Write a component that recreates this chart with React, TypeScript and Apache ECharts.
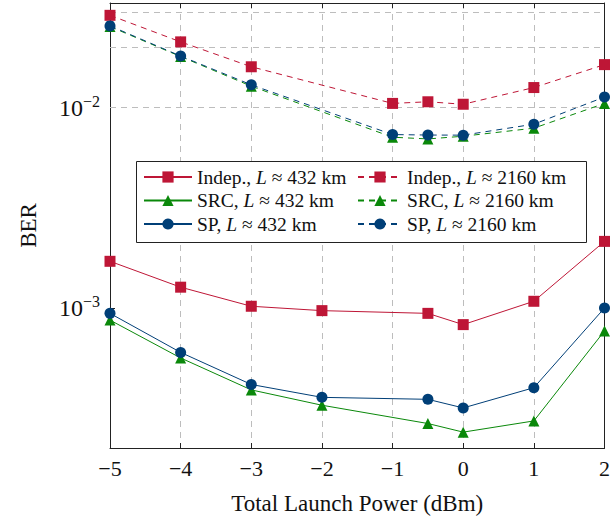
import React, { useEffect, useRef } from "react";
import * as echarts from "echarts";

const X432 = [-5, -4, -3, -2, -0.5, 0, 1, 2];
const X2160 = [-5, -4, -3, -1, -0.5, 0, 1, 2];
const indep432 = [1.71e-3, 1.27e-3, 1.02e-3, 0.97e-3, 0.94e-3, 0.826e-3, 1.08e-3, 2.15e-3];
const src432 = [0.87e-3, 0.563e-3, 0.39e-3, 0.327e-3, 0.265e-3, 0.24e-3, 0.273e-3, 0.768e-3];
const sp432 = [0.94e-3, 0.6e-3, 0.415e-3, 0.358e-3, 0.35e-3, 0.317e-3, 0.4e-3, 1.0e-3];
const indep2160 = [2.89e-2, 2.13e-2, 1.6e-2, 1.05e-2, 1.07e-2, 1.04e-2, 1.26e-2, 1.64e-2];
const src2160 = [2.54e-2, 1.8e-2, 1.28e-2, 7.12e-3, 6.98e-3, 7.2e-3, 7.9e-3, 1.05e-2];
const sp2160 = [2.56e-2, 1.81e-2, 1.3e-2, 7.34e-3, 7.3e-3, 7.29e-3, 8.27e-3, 1.13e-2];
const gridValues = [3e-4, 4e-4, 5e-4, 6e-4, 7e-4, 8e-4, 9e-4, 1e-3, 2e-3, 3e-3, 4e-3, 5e-3, 6e-3, 7e-3, 8e-3, 9e-3, 1e-2, 2e-2, 3e-2];
const names432 = ["Indep., L ≈ 432 km", "SRC, L ≈ 432 km", "SP, L ≈ 432 km"];
const names2160 = ["Indep., L ≈ 2160 km", "SRC, L ≈ 2160 km", "SP, L ≈ 2160 km"];

const RED = "#BE1636";
const GREEN = "#0A880A";
const BLUE = "#003F77";
const FONT = "'Liberation Serif', 'Times New Roman', serif";
const GRIDC = "#bdbdbd";

function zip(xs: number[], ys: number[]) {
  return xs.map((x, i) => [x, ys[i]]);
}

export default function App() {
  const ref = useRef<HTMLDivElement>(null);
  useEffect(() => {
    if (!ref.current) return;
    const chart = echarts.init(ref.current, null, { renderer: "svg" });
    const mk = (name: string, xs: number[], ys: number[], color: string, symbol: string, dashed: boolean) => ({
      name,
      type: "line",
      data: zip(xs, ys),
      symbol,
      symbolSize: 11,
      showSymbol: true,
      itemStyle: { color },
      lineStyle: { color, width: 1, type: dashed ? [6, 5] : "solid" },
      z: 3,
    });
    const legendCommon = {
      orient: "vertical",
      itemHeight: 14,
      itemGap: 3.5,
      padding: 0,
      textStyle: {
        fontFamily: FONT,
        fontSize: 19.5,
        lineHeight: 20,
        color: "#111",
        rich: { i: { fontFamily: FONT, fontSize: 19.5, lineHeight: 20, fontStyle: "italic", color: "#111" } },
      },
      formatter: (n: string) => {
        const parts = n.split("L");
        return parts[0] + "{i|L}" + parts[1];
      },
      selectedMode: false,
    };
    const isPow = (v: number) => Math.abs(Math.log10(v) - Math.round(Math.log10(v))) < 1e-6;
    chart.setOption({
      animation: false,
      grid: { left: 110, right: 8, top: 3, bottom: 71 },
      xAxis: [
        {
          type: "value",
          min: -5,
          max: 2,
          interval: 1,
          axisLine: { show: true, onZero: false, lineStyle: { color: "#222", width: 1 } },
          axisTick: { show: true, inside: true, length: 5, lineStyle: { color: "#222" } },
          axisLabel: {
            fontFamily: FONT,
            fontSize: 22,
            color: "#111",
            margin: 9,
            formatter: (v: number) => (v < 0 ? "\u2212" + Math.abs(v) : String(v)),
          },
          splitLine: { show: true, lineStyle: { color: GRIDC, type: [6, 5], width: 1 } },
          name: "Total Launch Power (dBm)",
          nameLocation: "middle",
          nameGap: 44,
          nameTextStyle: { fontFamily: FONT, fontSize: 23, color: "#111" },
        },
        {
          type: "value",
          position: "top",
          min: -5,
          max: 2,
          interval: 1,
          axisLine: { show: true, onZero: false, lineStyle: { color: "#222", width: 1 } },
          axisTick: { show: true, inside: true, length: 5, lineStyle: { color: "#222" } },
          axisLabel: { show: false },
          splitLine: { show: false },
        },
      ],
      yAxis: [
        {
          type: "log",
          logBase: 10,
          min: 2e-4,
          max: 0.0333,
          axisLine: { show: true, onZero: false, lineStyle: { color: "#222", width: 1 } },
          axisTick: { show: true, inside: true, length: 5, lineStyle: { color: "#222" } },
          splitLine: { show: false },
          axisLabel: {
            margin: 10,
            formatter: (v: number) => {
              if (!isPow(v)) return "";
              const e = Math.round(Math.log10(v));
              return "{b|10}{s|" + (e < 0 ? "\u2212" + Math.abs(e) : String(e)) + "}";
            },
            rich: {
              b: { fontFamily: FONT, fontSize: 24, color: "#111", lineHeight: 28 },
              s: { fontFamily: FONT, fontSize: 16, color: "#111", lineHeight: 16, verticalAlign: "top" },
            },
          },
          name: "BER",
          nameLocation: "middle",
          nameGap: 70,
          nameTextStyle: { fontFamily: FONT, fontSize: 23, color: "#111" },
        },
        {
          type: "log",
          logBase: 10,
          min: 2e-4,
          max: 0.0333,
          position: "right",
          axisLine: { show: true, onZero: false, lineStyle: { color: "#222", width: 1 } },
          axisTick: { show: true, inside: true, length: 5, lineStyle: { color: "#222" } },
          axisLabel: { show: false },
          splitLine: { show: false },
        },
      ],
      legend: [
        { ...legendCommon, itemWidth: 48, data: names432, left: 143, top: 167 },
        { ...legendCommon, itemWidth: 44, data: names2160, left: 357, top: 167 },
      ],
      graphic: [
        {
          type: "rect",
          z: 3,
          shape: { x: 136.5, y: 161.5, width: 450, height: 81 },
          style: { fill: "#fff", stroke: "#222", lineWidth: 1 },
        },
      ],
      series: [
        {
          name: "grid",
          type: "line",
          data: [],
          silent: true,
          z: 1,
          markLine: {
            z: 1,
            silent: true,
            symbol: ["none", "none"],
            label: { show: false },
            lineStyle: { color: GRIDC, type: [6, 5], width: 1 },
            data: gridValues.map((v) => ({ yAxis: v })),
          },
        },
        mk(names432[0], X432, indep432, RED, "rect", false),
        mk(names432[1], X432, src432, GREEN, "triangle", false),
        mk(names432[2], X432, sp432, BLUE, "circle", false),
        mk(names2160[0], X2160, indep2160, RED, "rect", true),
        mk(names2160[1], X2160, src2160, GREEN, "triangle", true),
        mk(names2160[2], X2160, sp2160, BLUE, "circle", true),
      ],
    });
    return () => chart.dispose();
  }, []);
  return <div ref={ref} style={{ position: "fixed", left: 0, top: 0, width: 613, height: 520, background: "#fff" }} />;
}
